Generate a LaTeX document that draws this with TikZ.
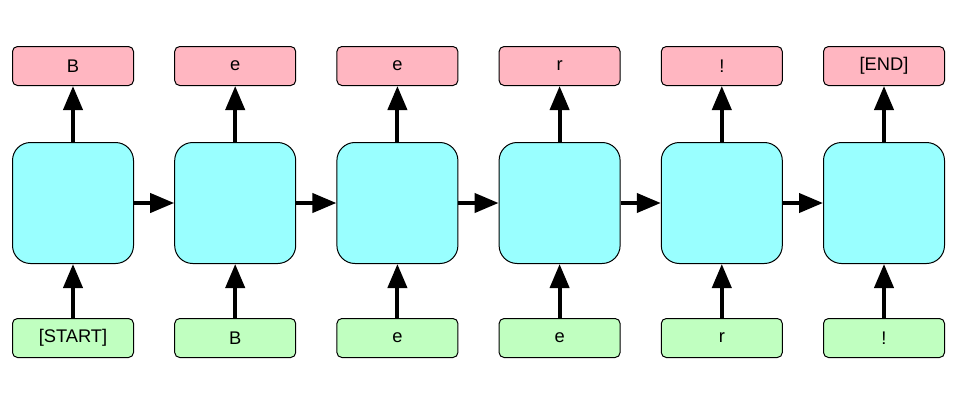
\documentclass[tikz,border=0pt]{standalone}
\usepackage{fontspec}
\setmainfont{Liberation Sans}
\usetikzlibrary{arrows.meta}
\definecolor{outpink}{HTML}{FFB6C1}
\definecolor{cellcyan}{HTML}{99FFFF}
\definecolor{ingreen}{HTML}{C0FFC0}
\tikzset{
  tok/.style={draw=black, line width=1pt, rounded corners=5pt, minimum width=121pt, minimum height=39pt, inner sep=0pt, anchor=north west, font=\fontsize{18.3}{21}\selectfont},
  outbox/.style={tok, fill=outpink},
  inbox/.style={tok, fill=ingreen},
  cellbox/.style={draw=black, line width=1pt, rounded corners=18pt, fill=cellcyan, minimum width=121pt, minimum height=121pt, inner sep=0pt, anchor=north west},
  flow/.style={line width=4pt, -{Triangle[length=24pt,width=19pt]}}
}
\begin{document}
\begin{tikzpicture}[x=1pt,y=-1pt]
\useasboundingbox (0,0) rectangle (960,400);
\foreach \i/\o/\n in {0/B/{[START]},1/e/B,2/e/e,3/r/e,4/!/r,5/{[END]}/!}{
  \pgfmathsetmacro{\xx}{12+162.2*\i}
  \node[outbox] (o\i) at (\xx,46) {\o};
  \node[cellbox] (c\i) at (\xx,142) {};
  \node[inbox] (n\i) at (\xx,318) {\n};
  \draw[flow] (c\i.north) -- (o\i.south);
  \draw[flow] (n\i.north) -- (c\i.south);
}
\foreach \i/\j in {0/1,1/2,2/3,3/4,4/5}{
  \draw[flow] (c\i.east) -- (c\j.west);
}
\end{tikzpicture}
\end{document}
